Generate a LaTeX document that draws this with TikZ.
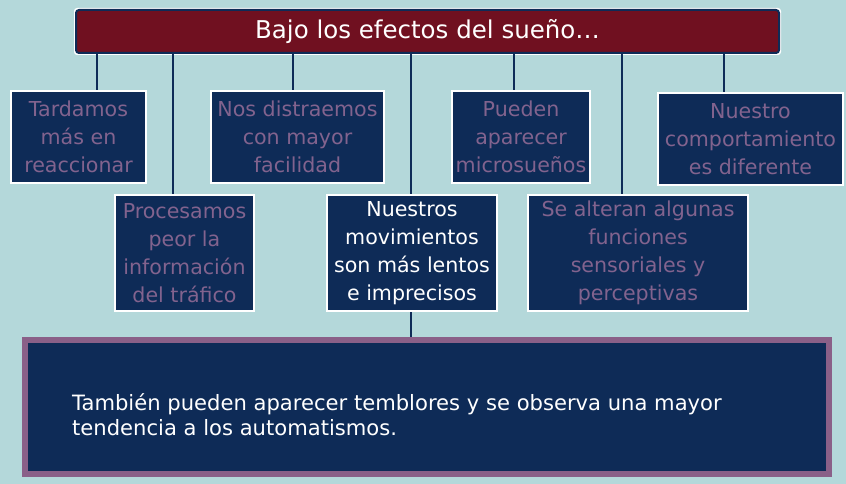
\documentclass[tikz,border=0pt]{standalone}
\usepackage{fontspec}
\setmainfont{DejaVu Sans}
\definecolor{bg}{HTML}{B4D8DA}
\definecolor{navy}{HTML}{0E2B57}
\definecolor{wine}{HTML}{701020}
\definecolor{ptext}{HTML}{82638E}
\definecolor{pborder}{HTML}{8A6088}
\begin{document}
\begin{tikzpicture}[x=1pt,y=-1pt,
  card/.style={draw=white,line width=2pt,fill=navy,text=ptext,align=center,
    inner sep=0pt,font=\fontsize{20.6}{28}\selectfont},
  link/.style={draw=navy,line width=2pt}]
\fill[bg] (0,0) rectangle (846,484);
\useasboundingbox (0,0) rectangle (846,484);
% title bar
\fill[white,rounded corners=3pt] (74,8) rectangle (781,55);
\node[draw=navy,line width=2pt,fill=wine,rounded corners=3pt,minimum width=703pt,minimum height=43pt,
  inner sep=0pt,text=white,font=\fontsize{24.5}{28}\selectfont] (bar) at (427.5,31.5) {Bajo los efectos del sueño…};
% boxes
\node[card,minimum width=135pt,minimum height=92pt] (b1) at (78.5,137) {Tardamos\\más en\\reaccionar};
\node[card,minimum width=173pt,minimum height=92pt] (b2) at (297.5,137) {Nos distraemos\\con mayor\\facilidad};
\node[card,minimum width=138pt,minimum height=92pt] (b3) at (521,137) {Pueden\\aparecer\\microsueños};
\node[card,minimum width=185pt,minimum height=92pt] (b4) at (750.5,139) {Nuestro\\comportamiento\\es diferente};
\node[card,minimum width=139pt,minimum height=116pt] (b5) at (184.5,253) {Procesamos\\peor la\\información\\del tráfico};
\node[card,minimum width=170pt,minimum height=116pt,text=white] (b6) at (412,253) {Nuestros\\movimientos\\son más lentos\\e imprecisos};
\node[card,minimum width=220pt,minimum height=116pt] (b7) at (638,253) {Se alteran algunas\\funciones\\sensoriales y\\perceptivas};
% bottom box
\node[draw=pborder,line width=6pt,fill=navy,minimum width=804pt,minimum height=134pt,inner sep=0pt] (bottom) at (427,407) {};
\node[anchor=base west,align=left,text=white,inner sep=0pt,
  font=\fontsize{21.1}{25}\selectfont] (btext) at (72,435) {También pueden aparecer temblores y se observa una mayor\\tendencia a los automatismos.};
% connectors
\coordinate (c1) at (97,54);
\coordinate (c2) at (173,54);
\coordinate (c3) at (292.5,54);
\coordinate (c4) at (411,54);
\coordinate (c5) at (514,54);
\coordinate (c6) at (622,54);
\coordinate (c7) at (724,54);
\draw[link] (c1) -- (c1 |- b1.north);
\draw[link] (c2) -- (c2 |- b5.north);
\draw[link] (c3) -- (c3 |- b2.north);
\draw[link] (c4) -- (c4 |- b6.north);
\draw[link] (c5) -- (c5 |- b3.north);
\draw[link] (c6) -- (c6 |- b7.north);
\draw[link] (c7) -- (c7 |- b4.north);
\draw[link] (b6.south -| c4) -- (c4 |- bottom.north);
\end{tikzpicture}
\end{document}
